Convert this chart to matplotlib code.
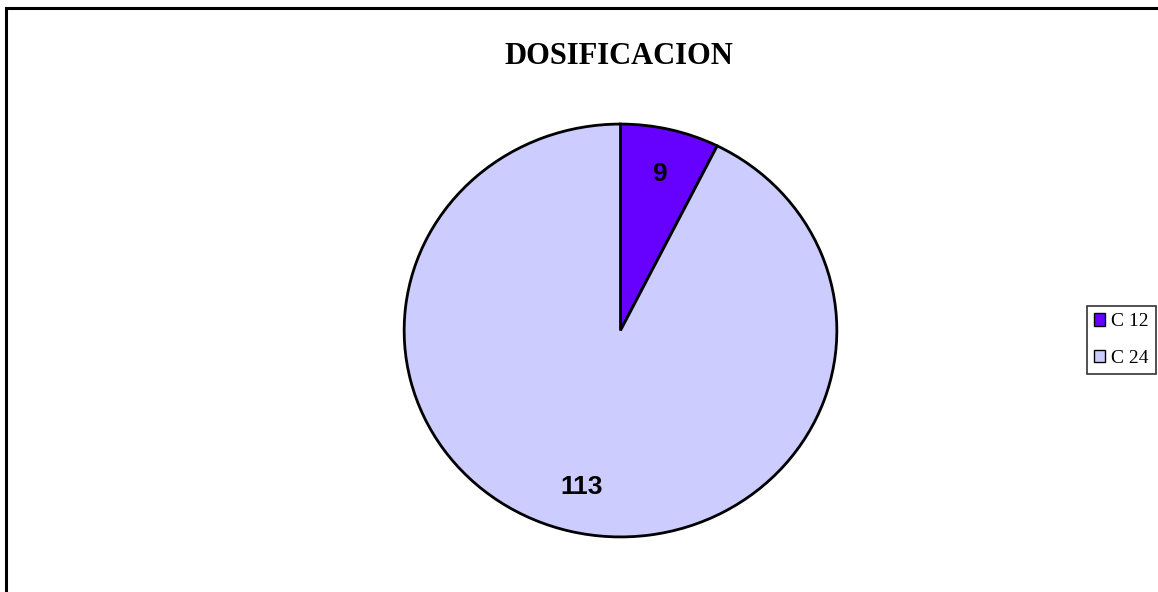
import matplotlib.pyplot as plt
from matplotlib.patches import Rectangle

categorias = ['C 12', 'C 24']
valores = [9, 113]
colores = ['#6600FF', '#CCCCFF']
titulo = 'DOSIFICACION'

W, H = 1158, 592
fig = plt.figure(figsize=(W / 100, H / 100), dpi=100)

# marco exterior (se sale por la derecha y por abajo)
fig.patches.append(Rectangle((6 / W, -0.05), 1.2, (H - 8) / H + 0.05,
                             transform=fig.transFigure, fill=False,
                             edgecolor='black', linewidth=2.2, zorder=0))

# eje de la tarta, ajustado al ovalo del original
ax = fig.add_axes([402 / W, (H - 539) / H, 437 / W, 417 / H])
cunas, textos, numeros = ax.pie(
    valores, colors=colores, startangle=90, counterclock=False,
    autopct=lambda p: '%d' % round(p * sum(valores) / 100),
    pctdistance=0.78, radius=1,
    wedgeprops=dict(edgecolor='black', linewidth=2),
    textprops=dict(fontfamily='Liberation Sans', fontweight='bold', fontsize=19))
ax.set_aspect('auto')
ax.set_xlim(-1.01, 1.01)
ax.set_ylim(-1.01, 1.01)

fig.text(619 / W, 1 - 56 / H, titulo, ha='center', va='center',
         fontfamily='Liberation Serif', fontweight='bold', fontsize=22)

leg = fig.legend(cunas, categorias, loc='center left',
                 bbox_to_anchor=(1087 / W, 1 - 340 / H),
                 prop=dict(family='Liberation Serif', size=14),
                 frameon=True, fancybox=False, edgecolor='black',
                 handlelength=0.6, handleheight=0.6, handletextpad=0.3,
                 borderpad=0.35, labelspacing=1.0, borderaxespad=0)
leg.get_frame().set_linewidth(1.2)
for h in leg.legend_handles:
    h.set_linewidth(1)

fig.savefig('out.png', dpi=100)
